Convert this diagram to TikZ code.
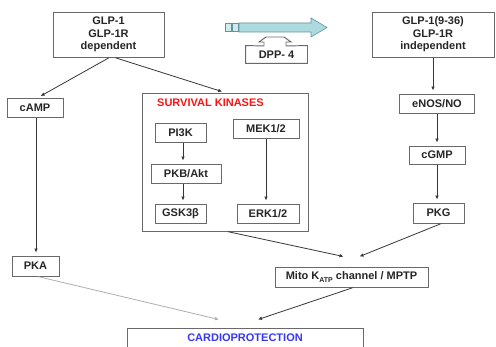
\documentclass[tikz,border=0pt]{standalone}
\usepackage{fontspec}
\setmainfont{Liberation Sans}
\usetikzlibrary{arrows.meta,calc}
\definecolor{boxline}{RGB}{105,105,105}
\definecolor{conline}{RGB}{55,55,55}
\definecolor{lightline}{RGB}{175,175,175}
\definecolor{kinred}{RGB}{250,20,20}
\definecolor{cardblue}{RGB}{55,55,245}
\definecolor{tealfill}{RGB}{172,218,222}
\definecolor{tealline}{RGB}{95,150,158}
\tikzset{
  bx/.style={draw=boxline, line width=0.95pt, inner sep=0pt, align=center,
    font=\fontsize{11}{12.5}\selectfont\bfseries, text=black!85},
  con/.style={draw=conline, line width=0.8pt, -{Latex[length=4pt,width=3.6pt]},
    shorten >=3pt, shorten <=1pt},
  lcon/.style={con, draw=lightline},
}
\begin{document}
\begin{tikzpicture}[x=1pt,y=-1pt]
\useasboundingbox (0,0) rectangle (496,347);
\clip (0,0) rectangle (496,347);
\fill[white] (0,0) rectangle (496,347);

% top boxes
\node[bx, minimum width=111pt, minimum height=45pt] (glp1) at (108.5,34.5) {GLP-1\\GLP-1R\\dependent};
\node[bx, minimum width=122pt, minimum height=45pt] (glp936) at (433,34.5) {GLP-1(9-36)\\GLP-1R\\independent};

% teal arrow with squares
\filldraw[fill=tealfill!55!white, draw=tealline, line width=0.6pt] (225,23) rectangle (231,31);
\filldraw[fill=tealfill!55!white, draw=tealline, line width=0.6pt] (232,23) rectangle (238,31);
\filldraw[fill=tealfill, draw=tealline, line width=0.6pt]
  (239,23) -- (311,23) -- (311,18) -- (327,27.5) -- (311,37) -- (311,32) -- (239,32) -- cycle;

% DPP-4 box with upward notch
\node[bx, draw=none, minimum width=61pt, minimum height=17pt] (dpp) at (276.5,54.5) {DPP- 4};
\draw[boxline, line width=0.95pt, line join=miter]
  (dpp.south west) -- (dpp.north west) -- (264,46) -- (264,42) -- (259,42) -- (266,37)
  -- (284,37) -- (291,42) -- (286,42) -- (286,46) -- (dpp.north east) -- (dpp.south east) -- cycle;

% left column
\node[bx, minimum width=56pt, minimum height=19pt] (camp) at (35,107.5) {cAMP};
\node[bx, minimum width=47pt, minimum height=20pt] (pka) at (35.5,266) {PKA};

% survival kinases
\node[draw=boxline, line width=0.95pt, minimum width=166pt, minimum height=138pt, inner sep=0pt] (surv) at (225,162) {};
\node[font=\fontsize{11}{13}\selectfont\bfseries, text=kinred, anchor=west, inner sep=0pt] (survt) at (157,103) {SURVIVAL KINASES};
\node[bx, minimum width=51pt, minimum height=19pt] (pi3k) at (180.5,132.5) {PI3K};
\node[bx, minimum width=70pt, minimum height=19pt] (pkb) at (186,173.5) {PKB/Akt};
\node[bx, minimum width=51pt, minimum height=19pt] (gsk) at (180.5,213.5) {GSK3β};
\node[bx, minimum width=66pt, minimum height=19pt] (mek) at (266,128.5) {MEK1/2};
\node[bx, minimum width=62pt, minimum height=19pt] (erk) at (268,213.5) {ERK1/2};

% right column
\node[bx, minimum width=75pt, minimum height=19pt] (enos) at (437,103.5) {eNOS/NO};
\node[bx, minimum width=56pt, minimum height=18pt] (cgmp) at (437,155) {cGMP};
\node[bx, minimum width=51pt, minimum height=20pt] (pkg) at (438.5,213) {PKG};

% bottom
\node[bx, minimum width=153pt, minimum height=20pt] (mito) at (351.5,277)
  {Mito K\raisebox{-2.5pt}{\fontsize{7}{7}\selectfont ATP} channel / MPTP};
\node[bx, minimum width=236pt, minimum height=20pt, text=cardblue] (cardio) at (245,338) {CARDIOPROTECTION};

% connectors
\draw[con] ([xshift=1pt]glp1.south) -- ([xshift=3pt]camp.north);
\draw[con] ([xshift=6pt]glp1.south) -- (surv.north);
\draw[con] ([xshift=1pt]camp.south) -- ([xshift=1pt]camp.south |- pka.north);
\draw[con] ([xshift=2.5pt]pi3k.south) -- ([xshift=2.5pt]pi3k.south |- pkb.north);
\draw[con] (pkb.south -| pi3k.south) ++(2.5pt,0) coordinate (g1) -- (g1 |- gsk.north);
\draw[con] (mek.south) -- (mek.south |- erk.north);
\draw[con] (glp936.south) -- (glp936.south |- enos.north);
\draw[con] (enos.south) -- (enos.south |- cgmp.north);
\draw[con] (cgmp.south) -- (cgmp.south |- pkg.north);
\draw[con, shorten >=0pt] ([xshift=2pt]surv.south) -- ($(mito.north)+(-8,-10)$);
\draw[con, shorten >=0pt] ([xshift=3pt]pkg.south) -- ($(mito.north)+(8,-10)$);
\draw[lcon, shorten >=0pt] ([xshift=2pt]pka.south) -- ($(cardio.north)+(-26,-8)$);
\draw[con, shorten >=0pt] ([xshift=2pt]mito.south) -- ($(cardio.north)+(13,-8)$);
\end{tikzpicture}
\end{document}
